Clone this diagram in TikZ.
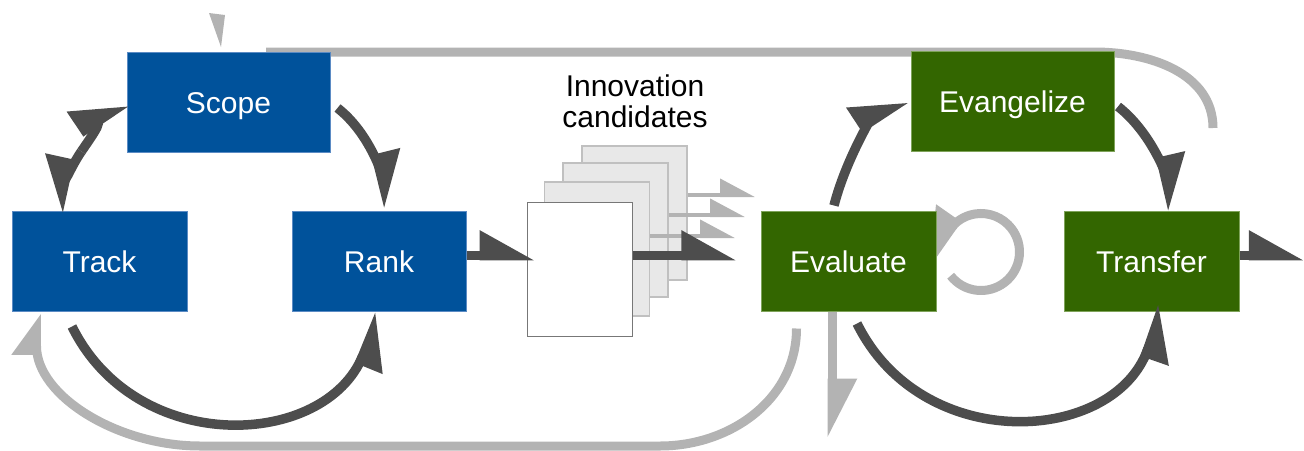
\documentclass[tikz,border=0pt]{standalone}
\usepackage{fontspec}
\setmainfont{Liberation Sans}
\usetikzlibrary{arrows.meta,calc}
\definecolor{cblue}{HTML}{00529B}
\definecolor{cblueline}{HTML}{5B8BC4}
\definecolor{cgreen}{HTML}{336600}
\definecolor{cgreenline}{HTML}{7FA35A}
\definecolor{cdark}{HTML}{4D4D4D}
\definecolor{cgrey}{HTML}{B3B3B3}
\definecolor{csheet}{HTML}{E8E8E8}
\definecolor{csheetline}{HTML}{C0C0C0}
\definecolor{cfrontline}{HTML}{777777}
\begin{document}
\begin{tikzpicture}[x=1pt,y=1pt,
  proc/.style={rectangle, line width=1pt, minimum height=100pt, inner sep=0pt,
    text=white, font=\fontsize{30}{36}\selectfont, text height=22pt, text depth=0pt},
  bluebox/.style={proc, fill=cblue, draw=cblueline},
  greenbox/.style={proc, fill=cgreen, draw=cgreenline},
  sheet/.style={rectangle, minimum width=105pt, minimum height=134pt, inner sep=0pt,
    line width=1.5pt, fill=csheet, draw=csheetline},
  frontsheet/.style={sheet, fill=white, draw=cfrontline},
  darc/.style={draw=cdark, line width=9.5pt},
  garc/.style={draw=cgrey, line width=9pt},
  thinarrow/.style={draw=cgrey, line width=4pt, -{Triangle[left, length=31pt, width=32pt]}},
  dtipL/.style={-{Triangle[left, length=46pt, width=48pt]}},
  dtipR/.style={-{Triangle[right, length=46pt, width=48pt]}}
]
\useasboundingbox (0,0) rectangle (1304,-450);

% coordinates of free ends
\coordinate (outend) at (1304,-255.5);
\coordinate (g1end) at (755,-195);
\coordinate (g2end) at (745,-215);
\coordinate (g3end) at (735,-236);
\coordinate (downend) at (832,-438);
\coordinate (loopc) at (981,-252);
\coordinate (grtop) at (1213,-128);
\coordinate (tsmid) at (81.4,-151.4);

% nodes (first placement, used for anchors of background lines)
\node[bluebox, minimum width=203pt] (scope) at (228.5,-102) {};
\node[greenbox, minimum width=203pt] (evangelize) at (1012.5,-101.5) {};
\node[greenbox, minimum width=175pt] (evaluate) at (848.5,-261) {};

% grey feedback line over the top (behind boxes)
\draw[garc] ($(scope.north)+(37.5,-0.5)$) -- ($(evangelize.north east)+(-20,-1)$)
  to[out=0,in=90] (grtop);

% grey self loop (behind Evaluate)
\draw[garc, -{Triangle[right, length=48pt, width=50pt]}]
  ($(loopc)+(218:38.5)$) arc[start angle=218, end angle=495, radius=38.5] -- ++(235:50);

% sheets
\node[sheet] (s4) at (634.5,-213) {};
\node[sheet] (s3) at (615.5,-230) {};
\node[sheet] (s2) at (597,-249) {};
\node[frontsheet] (s1) at (580,-269.5) {};

% boxes
\node[bluebox, minimum width=203pt] (scope) at (228.5,-102) {Scope};
\node[bluebox, minimum width=175pt] (track) at (99.5,-261) {Track};
\node[bluebox, minimum width=174pt] (rank) at (379,-261) {Rank};
\node[greenbox, minimum width=203pt] (evangelize) at (1012.5,-101.5) {Evangelize};
\node[greenbox, minimum width=175pt] (evaluate) at (848.5,-261) {Evaluate};
\node[greenbox, minimum width=175pt] (transfer) at (1151.5,-261) {Transfer};

\node[anchor=north, inner sep=0pt, align=center, font=\fontsize{30}{31}\selectfont]
  (label) at (635,-75) {Innovation\\candidates};

% grey arrow head above Scope
\fill[cgrey] (209,-13) -- (225,-15) -- (221,-47) -- cycle;

% grey feedback line along the bottom
\draw[garc, -{Triangle[left, length=35pt, width=48pt]}]
  ($(evaluate.south west)+(36,-17)$) to[out=-90,in=0] (660,-446) -- (200,-446)
  to[out=180,in=-90] ($(track.south west)+(25,-2)$);

% grey down arrow
\draw[garc, -{Triangle[left, length=50pt, width=48pt]}] ([xshift=-16.5pt]evaluate.south) -- (downend);

% thin grey arrows
\draw[thinarrow] ([yshift=18pt]s4.east) -- (g1end);
\draw[thinarrow] ([yshift=15pt]s3.east) -- (g2end);
\draw[thinarrow] ([yshift=13pt]s2.east) -- (g3end);

% dark straight arrows
\draw[darc, dtipL] ([yshift=5.5pt]rank.east) -- ([xshift=8pt,yshift=14pt]s1.west);
\draw[darc, dtipL] ([yshift=14pt]s1.east) -- ([xshift=-24pt,yshift=5.5pt]evaluate.west);
\draw[darc, dtipL] ([yshift=5.5pt]transfer.east) -- (outend);

% left cycle
\draw[darc, dtipL] ($(scope.east)+(7,-6)$) to[out=-38,in=104,looseness=0.88] ($(rank.north)+(10,3)$);
\draw[darc, dtipL] (tsmid) to[out=55.7,in=213.8,looseness=0.9] (scope.west);
\draw[darc, dtipR] (tsmid) to[out=235.7,in=77.6,looseness=0.9] ($(track.north)+(-41.5,-2)$);
\draw[darc, dtipR] ($(track.south)+(-27.5,-15)$) to[out=-63.7,in=247.8,looseness=1.21] ($(rank.south)+(1,-2)$);

% right cycle
\draw[darc, dtipL] ($(evaluate.north)+(-14.5,5)$) to[out=75.6,in=213.3,looseness=0.88] ($(evangelize.west)+(-4.5,3)$);
\draw[darc, dtipL] ($(evangelize.east)+(3.5,-5)$) to[out=-38.1,in=103.1,looseness=0.88] ($(transfer.north)+(21.5,0)$);
\draw[darc, dtipR] ($(evaluate.south)+(8.5,-12)$) to[out=-63.7,in=250.8,looseness=1.23] ($(transfer.south)+(11.5,6)$);
\end{tikzpicture}
\end{document}
